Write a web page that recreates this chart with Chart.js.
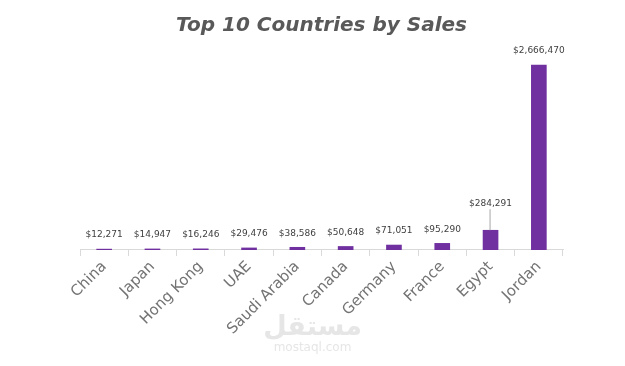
<!DOCTYPE html>
<html>
<head>
<meta charset="utf-8">
<script src="https://cdn.jsdelivr.net/npm/chart.js@4"></script>
<style>
  html, body { margin: 0; padding: 0; background: #fff; }
  #wrap { position: relative; width: 625px; height: 366px; }
  #watermark { position: absolute; left: 0; width: 625px; top: 312px; text-align: center;
    font-family: "DejaVu Sans", sans-serif; color: #e6e6e6; line-height: 1; }
  #watermark .ar { font-size: 27px; font-weight: bold; }
  #watermark .en { font-size: 12px; margin-top: 2px; }
</style>
</head>
<body>
<div id="wrap">
  <canvas id="myChart" width="625" height="366"></canvas>
  <div id="watermark"><div class="ar">مستقل</div><div class="en">mostaql.com</div></div>
</div>
<script>
// chart data
let countries = ['China', 'Japan', 'Hong Kong', 'UAE', 'Saudi Arabia', 'Canada', 'Germany', 'France', 'Egypt', 'Jordan'];
let sales = [12271, 14947, 16246, 29476, 38586, 50648, 71051, 95290, 284291, 2666470];

let fontFamily = '"Century Gothic", "DejaVu Sans", sans-serif';

// value labels above each bar, Egypt gets a leader line like in excel
let valueLabels = {
    id: 'valueLabels',
    afterDatasetsDraw(chart) {
        let ctx = chart.ctx;
        let meta = chart.getDatasetMeta(0);
        ctx.save();
        ctx.font = '9px ' + fontFamily;
        ctx.fillStyle = '#404040';
        ctx.textAlign = 'center';
        ctx.textBaseline = 'middle';
        meta.data.forEach(function (bar, i) {
            let text = '$' + sales[i].toLocaleString('en-US');
            let y = bar.y - 14;
            if (i === 8) {
                y = bar.y - 27;
                ctx.strokeStyle = '#a6a6a6';
                ctx.lineWidth = 1;
                ctx.beginPath();
                ctx.moveTo(bar.x - 0.5, bar.y);
                ctx.lineTo(bar.x - 0.5, y + 6);
                ctx.stroke();
            }
            ctx.fillText(text, bar.x, y);
        });
        ctx.restore();
    }
};

let ctx = document.getElementById('myChart').getContext('2d');
let myChart = new Chart(ctx, {
    type: 'bar',
    data: {
        labels: countries,
        datasets: [{
            label: 'Sales',
            data: sales,
            backgroundColor: '#7030a0',
            barThickness: 15
        }]
    },
    options: {
        responsive: false,
        animation: false,
        layout: { padding: { left: 80, right: 62, top: 0, bottom: 26 } },
        plugins: {
            legend: { display: false },
            tooltip: { enabled: false },
            title: {
                display: true,
                text: 'Top 10 Countries by Sales',
                color: '#595959',
                font: { family: fontFamily, size: 20, weight: 'bold', style: 'italic' },
                padding: { top: 14, bottom: 4 }
            }
        },
        scales: {
            x: {
                grid: { offset: true, drawOnChartArea: false, tickLength: 6, color: '#d9d9d9' },
                border: { color: '#d9d9d9' },
                ticks: {
                    color: '#737373',
                    font: { family: fontFamily, size: 15 },
                    minRotation: 45,
                    maxRotation: 45,
                    padding: 2
                }
            },
            y: {
                display: false,
                min: 0,
                max: 3000000
            }
        }
    },
    plugins: [valueLabels]
});
</script>
</body>
</html>
